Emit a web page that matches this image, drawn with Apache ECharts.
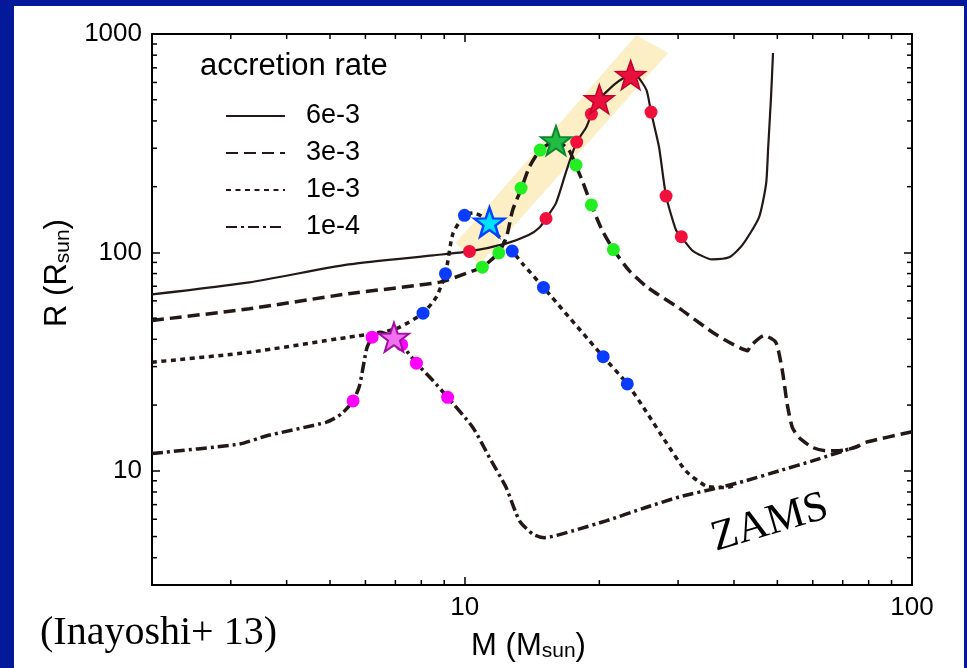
<!DOCTYPE html>
<html>
<head>
<meta charset="utf-8">
<title>accretion rate</title>
<script src="https://cdn.jsdelivr.net/npm/echarts@6/dist/echarts.min.js"></script>
<style>
  html, body { margin: 0; padding: 0; background: #03199a; }
  #box { position: absolute; left: 14px; top: 6px; width: 950px; height: 662px; background: #fff; }
</style>
</head>
<body>
<div id="box"></div>
<script>
const X_MIN = 2
const X_MAX = 100
const Y_MIN = 3
const Y_MAX = 1000

const xMajor = [10, 100]
const yMajor = [10, 100, 1000]
const xMinor = [3, 4, 5, 6, 7, 8, 9, 20, 30, 40, 50, 60, 70, 80, 90]
const yMinor = [4, 5, 6, 7, 8, 9, 20, 30, 40, 50, 60, 70, 80, 90, 200, 300, 400, 500, 600, 700, 800, 900]

// [M, R] tracks
const rate6e3 = [
  [2.0, 64.2], [3.3, 72.9], [5.5, 88.1], [8.5, 96.9], [10.25, 101], [12.4, 110], [13.9, 120],
  [14.7, 130], [15.2, 143], [16.0, 168], [16.9, 238], [17.8, 320], [18.7, 374], [19.2, 430],
  [20.0, 503], [21.8, 596], [23.5, 649], [24.3, 642], [25.5, 553], [26.1, 439], [27.2, 303],
  [28.2, 181], [29.7, 126], [30.5, 118], [32.3, 102], [35.7, 92.9], [39.0, 94.9], [41.7, 107.6],
  [45.5, 144.7], [47.2, 207], [47.7, 303], [48.4, 514], [48.9, 818]
]
const rate3e3 = [
  [2.0, 48.8], [3.3, 55.2], [5.5, 64.7], [8.8, 73.1], [10.25, 81.2], [10.95, 85.6], [11.9, 99.5],
  [12.4, 117.5], [12.8, 156], [13.4, 197], [13.95, 246], [14.75, 294], [16.0, 325], [17.1, 294],
  [17.7, 251], [18.3, 214], [19.2, 165], [20.3, 126], [21.5, 103], [23.3, 82.7], [25.6, 69.3],
  [30.2, 55.4], [35.8, 43.1], [39.0, 38.8], [42.9, 35.5], [43.6, 37.4], [46.7, 41.6], [49.6, 38.8],
  [51.3, 28.8], [52.6, 20.2], [54.0, 15.8], [55.9, 14.2], [59.9, 12.8], [64.1, 12.35], [68.7, 12.35],
  [74.8, 12.8], [78.8, 13.5], [100, 15.1]
]
const rate1e3 = [
  [2.0, 31.4], [3.3, 34.9], [5.5, 40.9], [6.56, 43.1], [7.15, 45.4], [8.07, 52.7], [8.64, 62.4],
  [9.06, 79.9], [9.41, 121.8], [9.99, 147.8], [10.43, 151.5], [10.98, 145.2], [11.76, 121.8],
  [12.38, 109.6], [12.77, 101.4], [13.48, 88.7], [15.0, 69.1], [20.4, 33.3], [23.1, 25.0],
  [25.4, 18.8], [28.2, 13.5], [31.2, 10.0], [34.6, 8.53], [38.4, 8.38], [40.0, 8.53]
]
const rate1e4 = [
  [2.0, 12.0], [3.14, 13.26], [3.61, 14.47], [4.91, 16.7], [5.30, 18.2], [5.63, 20.9], [5.82, 24.5],
  [6.04, 36.3], [6.21, 40.9], [6.45, 43.1], [6.95, 40.9], [7.23, 37.8], [7.80, 31.1], [8.49, 25.9],
  [9.16, 21.7], [10.43, 15.8], [11.36, 11.5], [12.38, 8.38], [13.26, 5.9], [14.2, 5.13], [15.08, 4.94],
  [17.44, 5.31], [20.7, 5.9], [25.4, 6.79], [30.2, 7.6], [37.1, 8.38], [42.5, 9.0], [50.5, 10.0],
  [59.9, 11.1], [76.0, 13.0]
]

const redDots = [[10.25, 101], [15.2, 143], [17.8, 320], [19.2, 430], [26.1, 439], [28.2, 181], [30.5, 118]]
const greenDots = [[10.95, 85.6], [11.92, 99.5], [13.37, 197], [14.75, 294], [17.74, 251], [19.2, 165], [21.5, 103]]
const blueDots = [[8.07, 52.7], [9.06, 79.9], [9.99, 147.8], [12.77, 101.4], [15.0, 69.1], [20.4, 33.3], [23.1, 25.0]]
const magentaDots = [[5.63, 20.9], [6.21, 40.9], [7.23, 37.8], [7.80, 31.1], [9.16, 21.7]]

const redStars = [[20.0, 503], [23.5, 649]]
const greenStars = [[16.0, 325]]
const blueStars = [[11.36, 137.7]]
const magentaStars = [[6.95, 40.9]]

const band = [[9.54, 110], [10.79, 88.1], [28.5, 818], [24.2, 990]]

const LINE = '#231815'
const FONT = 'Liberation Sans, Arial, Helvetica, sans-serif'
const SERIF = 'Liberation Serif, Times New Roman, serif'
const STAR = 'path://M0,-10L2.35,-3.24L9.51,-3.09L3.8,1.24L5.88,8.09L0,4L-5.88,8.09L-3.8,1.24L-9.51,-3.09L-2.35,-3.24Z'

function logAxis(min, max, position, major, withLabel) {
  return {
    type: 'log',
    logBase: 10,
    min: min,
    max: max,
    position: position,
    axisLine: { show: true, onZero: false, lineStyle: { color: '#000', width: 2 } },
    axisTick: { show: true, inside: true, length: 8, customValues: major, lineStyle: { color: '#000', width: 1.5 } },
    axisLabel: {
      show: withLabel,
      customValues: major,
      formatter: v => String(Math.round(v)),
      fontSize: 26,
      fontFamily: FONT,
      color: '#000',
      margin: 10
    },
    splitLine: { show: false },
    minorTick: { show: false }
  }
}

function minorTicks(values, dir) {
  return {
    type: 'custom',
    silent: true,
    z: 6,
    data: values.map(v => (dir === 'x' ? [v, Y_MIN] : [X_MIN, v])),
    renderItem(params, api) {
      const style = { stroke: '#000', lineWidth: 1.5 }
      if (dir === 'x') {
        const v = api.value(0)
        const b = api.coord([v, Y_MIN])
        const t = api.coord([v, Y_MAX])
        return {
          type: 'group',
          children: [
            { type: 'line', shape: { x1: b[0], y1: b[1], x2: b[0], y2: b[1] - 5 }, style: style },
            { type: 'line', shape: { x1: t[0], y1: t[1], x2: t[0], y2: t[1] + 5 }, style: style }
          ]
        }
      }
      const v = api.value(1)
      const l = api.coord([X_MIN, v])
      const r = api.coord([X_MAX, v])
      return {
        type: 'group',
        children: [
          { type: 'line', shape: { x1: l[0], y1: l[1], x2: l[0] + 5, y2: l[1] }, style: style },
          { type: 'line', shape: { x1: r[0], y1: r[1], x2: r[0] - 5, y2: r[1] }, style: style }
        ]
      }
    }
  }
}

function track(name, data, width, type) {
  return {
    name: name,
    type: 'line',
    data: data,
    symbol: 'none',
    smooth: 0.2,
    z: 3,
    itemStyle: { color: LINE },
    lineStyle: { color: LINE, width: width, type: type }
  }
}

function dots(data, color) {
  return {
    type: 'scatter',
    data: data,
    symbol: 'circle',
    symbolSize: 13,
    z: 4,
    itemStyle: { color: color, opacity: 1 }
  }
}

function stars(data, fill, stroke, lw) {
  return {
    type: 'scatter',
    data: data,
    symbol: STAR,
    symbolSize: [30, 29],
    z: 5,
    itemStyle: { color: fill, borderColor: stroke, borderWidth: lw, opacity: 1 }
  }
}

const chart = echarts.init(document.getElementById('box'))

const xBottom = logAxis(X_MIN, X_MAX, 'bottom', xMajor, true)
xBottom.name = '{n|M (M}{s|sun}{n|)}'
xBottom.nameLocation = 'middle'
xBottom.nameGap = 46
xBottom.nameTextStyle = {
  padding: [0, 7, 0, 0],
  rich: {
    n: { fontSize: 31, fontFamily: FONT, color: '#000' },
    s: { fontSize: 21, fontFamily: FONT, color: '#000', verticalAlign: 'bottom' }
  }
}

const yLeft = logAxis(Y_MIN, Y_MAX, 'left', yMajor, true)
yLeft.name = '{n|R (R}{s|sun}{n|)}'
yLeft.nameLocation = 'middle'
yLeft.nameGap = 75
yLeft.nameTextStyle = {
  padding: [0, 0, 0, 73],
  rich: {
    n: { fontSize: 31, fontFamily: FONT, color: '#000' },
    s: { fontSize: 21, fontFamily: FONT, color: '#000', verticalAlign: 'bottom' }
  }
}

chart.setOption({
  animation: false,
  backgroundColor: '#fff',
  title: {
    text: 'accretion rate',
    left: 186,
    top: 45,
    padding: 0,
    textStyle: { fontSize: 31, fontWeight: 'normal', fontFamily: FONT, color: '#000' }
  },
  legend: {
    data: ['6e-3', '3e-3', '1e-3', '1e-4'],
    orient: 'vertical',
    left: 211,
    top: 95,
    padding: 0,
    itemWidth: 59,
    itemHeight: 14,
    itemGap: 7,
    selectedMode: false,
    itemStyle: { opacity: 0 },
    textStyle: { fontSize: 27, fontFamily: FONT, color: '#000', lineHeight: 30, padding: [0, 0, 0, 16] }
  },
  grid: { left: 138, top: 28, right: 52, bottom: 83 },
  xAxis: [xBottom, logAxis(X_MIN, X_MAX, 'top', xMajor, false)],
  yAxis: [yLeft, logAxis(Y_MIN, Y_MAX, 'right', yMajor, false)],
  graphic: [
    {
      type: 'text',
      x: 756,
      y: 517,
      rotation: 0.285,
      style: { text: 'ZAMS', fontSize: 43, fontFamily: SERIF, fill: '#000', textAlign: 'center', textVerticalAlign: 'middle' }
    },
    {
      type: 'text',
      x: 26,
      y: 627,
      style: { text: '(Inayoshi+ 13)', fontSize: 40, fontFamily: SERIF, fill: '#000', textAlign: 'left', textVerticalAlign: 'middle' }
    }
  ],
  series: [
    {
      type: 'custom',
      silent: true,
      clip: true,
      z: 1,
      data: band,
      renderItem(params, api) {
        if (params.dataIndex !== 0) return
        return {
          type: 'polygon',
          shape: { points: band.map(p => api.coord(p)) },
          style: { fill: '#fcefc6' }
        }
      }
    },
    track('6e-3', rate6e3, 2.2, 'solid'),
    track('3e-3', rate3e3, 3.5, [12, 6]),
    track('1e-3', rate1e3, 3.5, [5, 4.5]),
    track('1e-4', rate1e4, 3.5, [11, 4, 3, 4]),
    dots(redDots, '#f0103c'),
    dots(greenDots, '#22ee22'),
    dots(blueDots, '#0a3cff'),
    dots(magentaDots, '#ff00ff'),
    stars(redStars, '#e8103c', '#c4002c', 1.5),
    stars(greenStars, '#22bb44', '#0a8a30', 2),
    stars(blueStars, '#00e0ff', '#0044ff', 2.5),
    stars(magentaStars, '#f070f0', '#a010a0', 2),
    minorTicks(xMinor, 'x'),
    minorTicks(yMinor, 'y')
  ]
})
</script>
</body>
</html>
